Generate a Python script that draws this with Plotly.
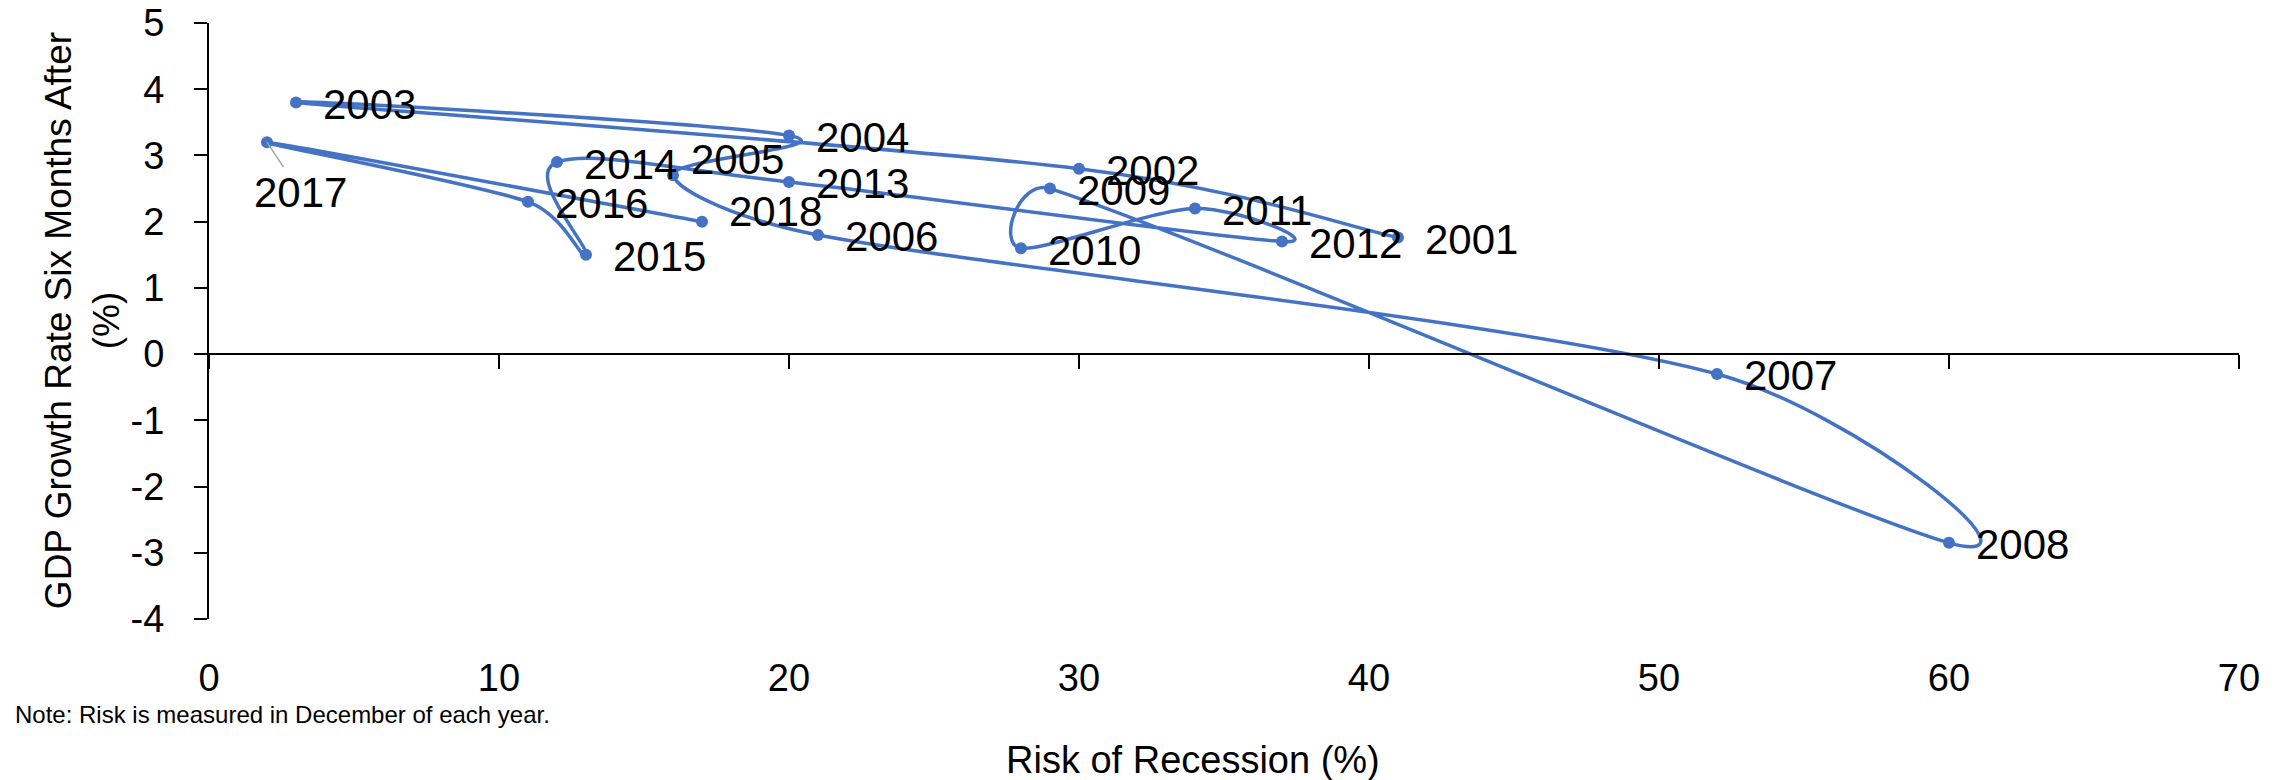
import math
import plotly.graph_objects as go

# Recession risk (%) measured each December vs. GDP growth six months later (%)
years = ["2001", "2002", "2003", "2004", "2005", "2006", "2007", "2008", "2009",
         "2010", "2011", "2012", "2013", "2014", "2015", "2016", "2017", "2018"]
risk = [41, 30, 3, 20, 16, 21, 52, 60, 29, 28, 34, 37, 20, 12, 13, 11, 2, 17]
gdp = [1.76, 2.8, 3.8, 3.3, 2.7, 1.8, -0.3, -2.85, 2.5, 1.6, 2.2, 1.7, 2.6, 2.9, 1.5, 2.3, 3.2, 2.0]

x_ticks = [0, 10, 20, 30, 40, 50, 60, 70]
y_ticks = [-4, -3, -2, -1, 0, 1, 2, 3, 4, 5]

# per-label nudges (px) for labels that sit off the default right-of-point spot
label_shift = {"2005": (-9, 18), "2018": (0, 12)}

FONT = "Liberation Sans, Arial, sans-serif"
BLUE = "#4472C4"

W, H = 2287, 780
M = dict(l=209, r=48, t=23, b=161)
X_RANGE = [0, 70]
Y_RANGE = [-4, 5]

# screen scale (px per unit) used for the smoothing so curves bend like on screen
sx = (W - M["l"] - M["r"]) / (X_RANGE[1] - X_RANGE[0])
sy = (H - M["t"] - M["b"]) / (Y_RANGE[1] - Y_RANGE[0])


def smooth_path(xs, ys):
    """Cubic Bezier path through the points (Catmull-Rom tangents, capped at half a segment)."""
    pts = [(x * sx, y * sy) for x, y in zip(xs, ys)]
    n = len(pts)

    def dist(a, b):
        return math.hypot(a[0] - b[0], a[1] - b[1])

    path = f"M {xs[0]},{ys[0]}"
    for i in range(n - 1):
        p0 = pts[i - 1] if i > 0 else pts[i]
        p1, p2 = pts[i], pts[i + 1]
        p3 = pts[i + 2] if i + 2 < n else pts[i + 1]
        d12, d02, d13 = dist(p1, p2), dist(p0, p2), dist(p1, p3)
        f = 1 / 6 if d02 / 6 < d12 / 2 else d12 / (2 * d02)
        g = 1 / 6 if d13 / 6 < d12 / 2 else d12 / (2 * d13)
        c1 = (p1[0] + f * (p2[0] - p0[0]), p1[1] + f * (p2[1] - p0[1]))
        c2 = (p2[0] - g * (p3[0] - p1[0]), p2[1] - g * (p3[1] - p1[1]))
        path += (f" C {c1[0] / sx:.4f},{c1[1] / sy:.4f}"
                 f" {c2[0] / sx:.4f},{c2[1] / sy:.4f}"
                 f" {p2[0] / sx:.4f},{p2[1] / sy:.4f}")
    return path


fig = go.Figure()

fig.add_trace(go.Scatter(
    x=risk, y=gdp, mode="markers",
    marker=dict(color=BLUE, size=12),
    hoverinfo="skip", showlegend=False,
))

# invisible copy so the axis drawn through y = 0 is rendered
fig.add_trace(go.Scatter(
    x=risk, y=gdp, xaxis="x2", yaxis="y", mode="markers",
    marker=dict(opacity=0), hoverinfo="skip", showlegend=False,
))

fig.add_shape(type="path", path=smooth_path(risk, gdp), xref="x", yref="y",
              line=dict(color=BLUE, width=3.5), layer="below")

annotations = []
for yr, xv, yv in zip(years, risk, gdp):
    if yr == "2017":
        annotations.append(dict(
            x=xv, y=yv, xref="x", yref="y", text=yr, showarrow=True,
            ax=33, ay=50, arrowhead=0, arrowwidth=1.5, arrowcolor="#A6A6A6",
            font=dict(family=FONT, size=42, color="black"),
        ))
        continue
    dx, dy = label_shift.get(yr, (0, 0))
    annotations.append(dict(
        x=xv, y=yv, xref="x", yref="y", text=yr, showarrow=False,
        xanchor="left", yanchor="middle", xshift=25 + dx, yshift=-2 + dy,
        font=dict(family=FONT, size=42, color="black"),
    ))

annotations += [
    dict(text="Risk of Recession (%)", xref="paper", yref="paper",
         x=0.4847, y=-0.237, xanchor="center", yanchor="middle", showarrow=False,
         font=dict(family=FONT, size=38, color="black")),
    dict(text="GDP Growth Rate Six Months After<br>(%)", xref="paper", yref="paper",
         x=-0.0625, y=0.5, xanchor="center", yanchor="middle", showarrow=False,
         textangle=-90, font=dict(family=FONT, size=37, color="black")),
    dict(text="Note: Risk is measured in December of each year.", xref="paper", yref="paper",
         x=-0.0966, y=-0.16, xanchor="left", yanchor="middle", showarrow=False,
         font=dict(family=FONT, size=24, color="black")),
]

fig.update_layout(
    width=W, height=H,
    margin=M,
    paper_bgcolor="white", plot_bgcolor="white",
    font=dict(family=FONT, size=38, color="black"),
    annotations=annotations,
    xaxis=dict(
        range=X_RANGE, tickvals=x_ticks, ticktext=[str(v) for v in x_ticks],
        showgrid=False, zeroline=False, automargin=False,
        showline=False, ticks="", ticklabelstandoff=33,
        tickfont=dict(family=FONT, size=38, color="black"),
    ),
    xaxis2=dict(
        matches="x", overlaying="x", anchor="free", position=4 / 9,
        range=X_RANGE, tickvals=x_ticks, showgrid=False, zeroline=False,
        automargin=False,
        showline=True, linecolor="black", linewidth=2,
        ticks="outside", ticklen=14, tickwidth=2, tickcolor="black",
        showticklabels=False,
    ),
    yaxis=dict(
        range=Y_RANGE, tickvals=y_ticks, ticktext=[str(v) for v in y_ticks],
        showgrid=False, zeroline=False, automargin=False,
        showline=True, linecolor="black", linewidth=2,
        ticks="outside", ticklen=13, tickwidth=2, tickcolor="black",
        ticklabelstandoff=22,
        tickfont=dict(family=FONT, size=38, color="black"),
    ),
)

fig.write_html("out.html")
